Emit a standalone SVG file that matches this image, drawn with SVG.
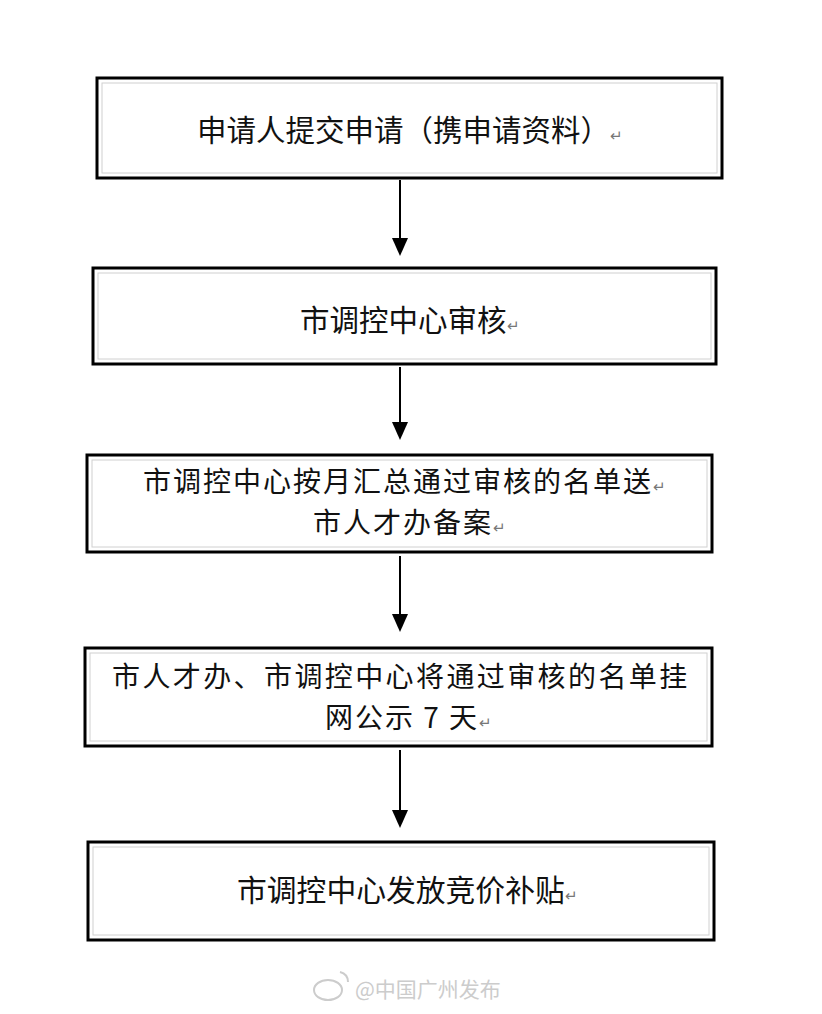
<svg xmlns="http://www.w3.org/2000/svg" width="822" height="1014" viewBox="0 0 822 1014">
<style>
.box{fill:#fff;stroke:#000;stroke-width:3}
.inner{fill:none;stroke:#d0d0d0;stroke-width:1}
.t{font-family:"Noto Sans CJK SC","Noto Sans",sans-serif;font-size:29.5px;fill:#111}
.t2{font-family:"Noto Sans CJK SC","Noto Sans",sans-serif;font-size:28px;letter-spacing:2px;fill:#111}
.r{font-size:15px;fill:#777;letter-spacing:0}
.conn{stroke:#000;stroke-width:2;fill:none}
.wm{font-family:"Noto Sans CJK SC","Noto Sans",sans-serif;font-size:21px;fill:#ccc}
</style>
<rect width="822" height="1014" fill="#fff"/>
<g id="connectors">
<line class="conn" x1="400" y1="180" x2="400" y2="240"/>
<path d="M392,238 L408,238 L400,256 z" fill="#000"/>
<line class="conn" x1="400" y1="367" x2="400" y2="424"/>
<path d="M392,422 L408,422 L400,440 z" fill="#000"/>
<line class="conn" x1="400" y1="556" x2="400" y2="616"/>
<path d="M392,614 L408,614 L400,632 z" fill="#000"/>
<line class="conn" x1="400" y1="750" x2="400" y2="812"/>
<path d="M392,810 L408,810 L400,828 z" fill="#000"/>
</g>
<g id="node1">
<rect class="box" x="97" y="78" width="625" height="100"/>
<rect class="inner" x="102" y="83" width="615" height="90"/>
<text class="t" x="197" y="141">申请人提交申请（携申请资料）<tspan class="r">↵</tspan></text>
</g>
<g id="node2">
<rect class="box" x="93" y="268" width="623" height="96"/>
<rect class="inner" x="98" y="273" width="613" height="86"/>
<text class="t" x="300" y="331">市调控中心审核<tspan class="r">↵</tspan></text>
</g>
<g id="node3">
<rect class="box" x="87" y="455" width="625" height="97"/>
<rect class="inner" x="92" y="460" width="615" height="87"/>
<text class="t2"><tspan x="143" y="492">市调控中心按月汇总通过审核的名单送</tspan><tspan class="r">↵</tspan><tspan x="313" y="533">市人才办备案</tspan><tspan class="r">↵</tspan></text>
</g>
<g id="node4">
<rect class="box" x="85" y="648" width="627" height="98"/>
<rect class="inner" x="90" y="653" width="617" height="88"/>
<text class="t2"><tspan x="112" y="687" style="letter-spacing:2.4px">市人才办、市调控中心将通过审核的名单挂</tspan><tspan x="325" y="728">网公示 7 天</tspan><tspan class="r">↵</tspan></text>
</g>
<g id="node5">
<rect class="box" x="88" y="842" width="626" height="98"/>
<rect class="inner" x="93" y="847" width="616" height="88"/>
<text class="t" x="237" y="901" style="font-size:29.8px">市调控中心发放竞价补贴<tspan class="r">↵</tspan></text>
</g>
<g id="watermark">
<ellipse cx="328" cy="990" rx="14" ry="10" fill="none" stroke="#ccc" stroke-width="2"/>
<path d="M340,972 q8,2 8,10" fill="none" stroke="#ccc" stroke-width="2"/>
<text class="wm" x="355" y="997">@中国广州发布</text>
</g>
</svg>
